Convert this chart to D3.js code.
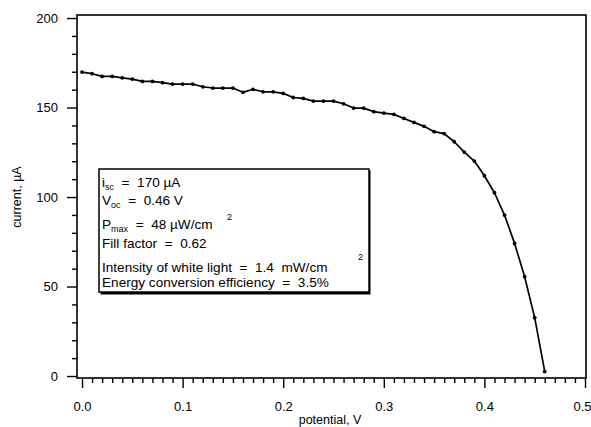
<!DOCTYPE html>
<html>
<head>
<meta charset="utf-8">
<script src="https://cdn.jsdelivr.net/npm/d3@7"></script>
<style>
  html, body { margin: 0; padding: 0; background: #fff; }
  svg { display: block; font-family: "Liberation Sans", Arial, sans-serif; }
  .info text { white-space: pre; }
</style>
</head>
<body>
<div id="chart"></div>
<script>
// I-V curve, one reading every 0.01 V
const potential = [
  0.00, 0.01, 0.02, 0.03, 0.04, 0.05, 0.06, 0.07, 0.08, 0.09,
  0.10, 0.11, 0.12, 0.13, 0.14, 0.15, 0.16, 0.17, 0.18, 0.19,
  0.20, 0.21, 0.22, 0.23, 0.24, 0.25, 0.26, 0.27, 0.28, 0.29,
  0.30, 0.31, 0.32, 0.33, 0.34, 0.35, 0.36, 0.37, 0.38, 0.39,
  0.40, 0.41, 0.42, 0.43, 0.44, 0.45, 0.46
];
const current = [
  169.8, 168.9, 167.4, 167.4, 166.6, 165.9, 164.6, 164.6, 163.9, 163.1,
  163.1, 163.1, 161.6, 160.9, 160.9, 160.9, 158.5, 160.2, 158.8, 158.8,
  157.9, 155.6, 155.1, 153.6, 153.6, 153.6, 152.1, 149.7, 149.7, 147.7,
  146.9, 146.2, 143.9, 141.7, 139.5, 136.5, 135.4, 130.9, 125.1, 120.1,
  111.9, 102.4, 89.9, 74.1, 55.5, 32.6, 2.5
];
const xTicks = [0.0, 0.1, 0.2, 0.3, 0.4, 0.5];
const yTicks = [0, 50, 100, 150, 200];

const infoLines = [
  [["i", ""], ["sc", "sub"], ["  =  170 µA", ""]],
  [["V", ""], ["oc", "sub"], ["  =  0.46 V", ""]],
  [["P", ""], ["max", "sub"], ["  =  48 µW/cm", ""]],
  [["Fill factor  =  0.62", ""]],
  [["Intensity of white light  =  1.4  mW/cm", ""]],
  [["Energy conversion efficiency  =  3.5%", ""]]
];

const W = 591, H = 427;
const svg = d3.select("#chart").append("svg")
  .attr("width", W).attr("height", H);

const x = d3.scaleLinear().domain([-0.005, 0.501]).range([77, 586]);
const y = d3.scaleLinear().domain([-1.1, 201.7]).range([378, 15]);

// frame
svg.append("rect")
  .attr("x", x.range()[0]).attr("y", y.range()[1])
  .attr("width", x.range()[1] - x.range()[0])
  .attr("height", y.range()[0] - y.range()[1])
  .attr("fill", "none").attr("stroke", "#000").attr("stroke-width", 1.6);

// minor ticks
const xMinor = d3.range(0, 51).map(i => i / 100).filter(v => Math.round(v * 100) % 10 !== 0);
const yMinor = d3.range(0, 201, 10).filter(v => v % 50 !== 0);

const gx = svg.append("g").attr("transform", `translate(0,${y.range()[0]})`);
gx.call(d3.axisBottom(x).tickValues(xMinor).tickSize(5).tickFormat(""));
gx.append("g").call(d3.axisBottom(x).tickValues(xTicks).tickSize(10).tickPadding(14)
  .tickFormat(d3.format(".1f")));

const gy = svg.append("g").attr("transform", `translate(${x.range()[0]},0)`);
gy.call(d3.axisLeft(y).tickValues(yMinor).tickSize(5).tickFormat(""));
gy.append("g").call(d3.axisLeft(y).tickValues(yTicks).tickSize(10).tickPadding(9)
  .tickFormat(d3.format("d")));

svg.selectAll(".domain").remove();
svg.selectAll(".tick line").attr("stroke", "#000").attr("stroke-width", 1.4);
svg.selectAll(".tick text").attr("font-size", 13).attr("fill", "#000")
  .attr("font-family", "Liberation Sans, Arial, sans-serif");
// last x label sits against the right edge, as in the original
gx.selectAll(".tick text").filter(d => d === 0.5)
  .attr("text-anchor", "end").attr("x", W - x(0.5));

// axis titles
svg.append("text")
  .attr("x", 330).attr("y", 424)
  .attr("text-anchor", "middle").attr("font-size", 12.5)
  .text("potential, V");
svg.append("text")
  .attr("transform", "translate(21,197) rotate(-90)")
  .attr("text-anchor", "middle").attr("font-size", 12.5)
  .text("current, µA");

// curve
const pts = potential.map((v, i) => [v, current[i]]);
svg.append("path")
  .datum(pts)
  .attr("fill", "none").attr("stroke", "#000").attr("stroke-width", 1.7)
  .attr("stroke-linejoin", "round")
  .attr("d", d3.line().x(d => x(d[0])).y(d => y(d[1])));
svg.append("g").selectAll("circle")
  .data(pts).join("circle")
  .attr("cx", d => x(d[0])).attr("cy", d => y(d[1]))
  .attr("r", 1.9).attr("fill", "#000");

// info box
const info = svg.append("g").attr("class", "info");
info.append("rect")
  .attr("x", 100.5).attr("y", 170.5).attr("width", 270).attr("height", 124)
  .attr("fill", "#000");
info.append("rect")
  .attr("x", 99).attr("y", 169).attr("width", 270).attr("height", 123)
  .attr("fill", "#fff").attr("stroke", "#000").attr("stroke-width", 1.5);

const baselines = [187, 205, 229, 248, 272, 287];
infoLines.forEach((parts, i) => {
  const t = info.append("text")
    .attr("x", 102).attr("y", baselines[i])
    .attr("font-size", 13.6).attr("xml:space", "preserve");
  parts.forEach(([s, kind]) => {
    const sp = t.append("tspan").text(s);
    if (kind === "sub") sp.attr("font-size", 9).attr("dy", 3);
    else if (t.selectAll("tspan").size() > 1) sp.attr("dy", -3);
  });
});
// superscripts on cm
info.append("text").attr("x", 227).attr("y", 220).attr("font-size", 9).text("2");
info.append("text").attr("x", 358).attr("y", 260).attr("font-size", 9).text("2");
</script>
</body>
</html>
